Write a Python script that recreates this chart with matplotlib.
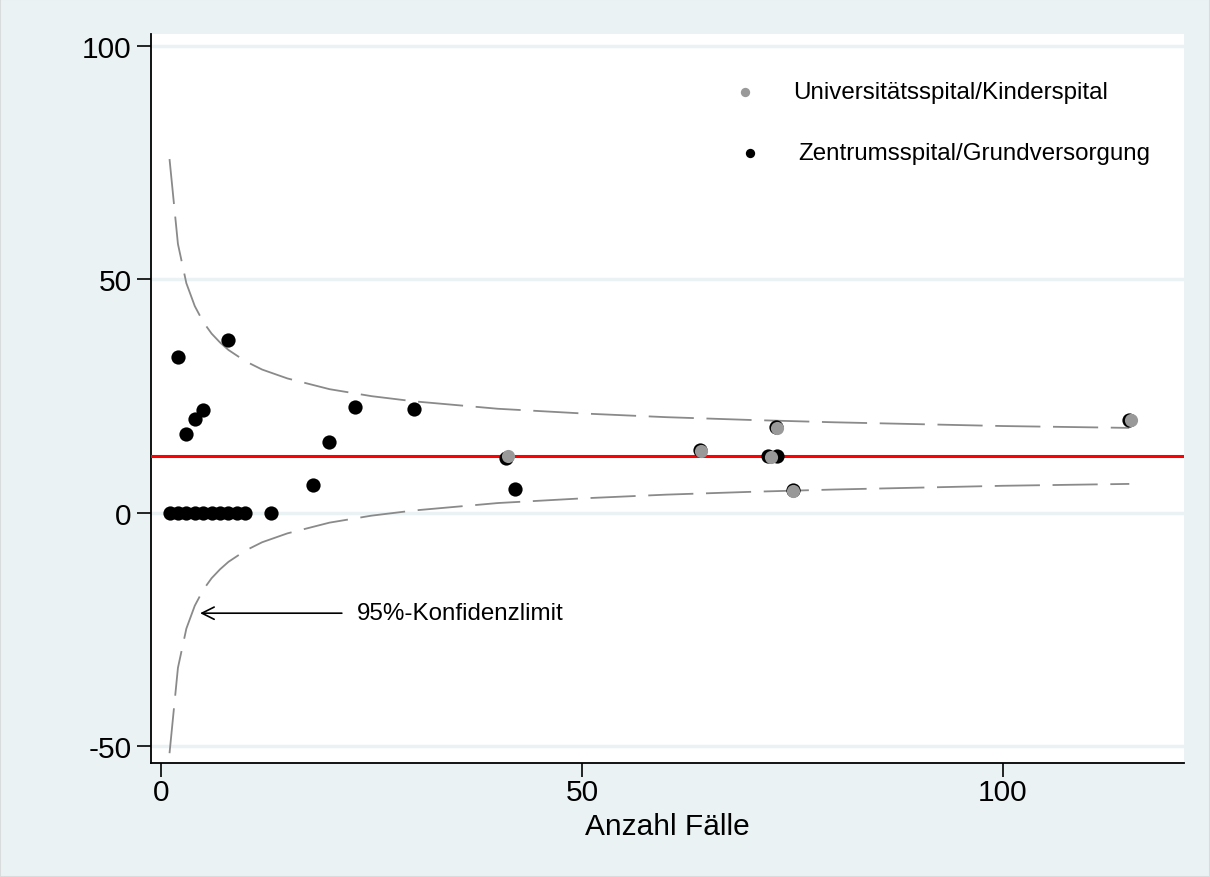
import matplotlib
matplotlib.use("Agg")
import matplotlib.pyplot as plt
from matplotlib.patches import Rectangle

plt.rcParams['font.family'] = ['Liberation Sans', 'DejaVu Sans']
plt.rcParams['axes.unicode_minus'] = False

# Zentrumsspital/Grundversorgung (black)
zentrum_n = [1, 2, 3, 4, 5, 6, 7, 8, 9, 10, 2, 3, 4, 5, 8, 13, 18, 20, 23, 30,
             41, 42, 64, 72.1, 73.2, 73, 75, 115]
zentrum_pct = [0, 0, 0, 0, 0, 0, 0, 0, 0, 0, 33.3, 16.9, 20.1, 22.1, 37.1, 0, 6.0, 15.1, 22.7, 22.2,
               11.8, 5.1, 13.5, 12.1, 12.1, 18.5, 4.9, 19.9]

# Universitätsspital/Kinderspital (grey)
uni_n = [41.2, 64.1, 73.1, 72.4, 75.0, 115.2]
uni_pct = [12.2, 13.2, 18.2, 11.9, 4.6, 19.8]

mean_pct = 12.2

# 95% confidence limits
limit_n = [1, 2, 3, 4, 5, 6, 7, 8, 10, 12, 15, 20, 25, 30, 40, 50, 60, 70, 80, 90, 100, 115]
limit_upper = [75.8, 57.6, 49.2, 44.3, 40.9, 38.4, 36.5, 34.9, 32.5, 30.7, 28.8, 26.5, 25.0,
               23.9, 22.3, 21.3, 20.5, 19.9, 19.4, 19.0, 18.6, 18.2]
limit_lower = [-51.5, -33.2, -24.8, -19.9, -16.5, -14.0, -12.1, -10.5, -8.1, -6.3, -4.4, -2.1,
               -0.6, 0.5, 2.1, 3.1, 3.9, 4.5, 5.0, 5.4, 5.8, 6.2]

bg = '#eaf2f3'
fig = plt.figure(figsize=(12.1, 8.78), dpi=100, facecolor=bg)
fig.patches.append(Rectangle((0, 0), 1, 1, transform=fig.transFigure, facecolor='none',
                             edgecolor='#d8dcdc', linewidth=1.5, zorder=-1))
ax = fig.add_axes([151 / 1210, 1 - 764 / 878, (1184 - 151) / 1210, (764 - 35) / 878])
ax.set_facecolor('white')

ax.set_xlim(-1.2, 121.5)
ax.set_ylim(-53.6, 102.6)

for y in [-50, 0, 50, 100]:
    ax.axhline(y, color=bg, linewidth=2.5, zorder=0)

ax.plot(limit_n, limit_upper, color='#8a8a8a', linewidth=1.3, dashes=(25, 7), zorder=2)
ax.plot(limit_n, limit_lower, color='#8a8a8a', linewidth=1.3, dashes=(25, 7), zorder=2)
ax.axhline(mean_pct, color='red', linewidth=2.2, zorder=3)

ax.scatter(zentrum_n, zentrum_pct, s=105, color='black', zorder=4, linewidths=0)
ax.scatter(uni_n, uni_pct, s=90, color='#999999', zorder=5, linewidths=0)

# legend drawn by hand like the original
ax.scatter([69.3], [90.1], s=45, color='#999999', linewidths=0, zorder=6)
ax.text(75.1, 90.1, 'Universitätsspital/Kinderspital', fontsize=17.4, va='center', ha='left')
ax.scatter([69.9], [77.0], s=45, color='black', linewidths=0, zorder=6)
ax.text(75.7, 77.0, 'Zentrumsspital/Grundversorgung', fontsize=17.4, va='center', ha='left')

ax.annotate('', xy=(4.3, -21.5), xytext=(21.8, -21.5),
            arrowprops=dict(arrowstyle='->', color='black', linewidth=1.2,
                            mutation_scale=22))
ax.text(23.3, -21.5, '95%-Konfidenzlimit', fontsize=17.4, va='center', ha='left')

for s in ['top', 'right']:
    ax.spines[s].set_visible(False)
ax.spines['left'].set_linewidth(1.3)
ax.spines['bottom'].set_linewidth(1.3)

ax.set_xticks([0, 50, 100])
ax.set_yticks([-50, 0, 50, 100])
ax.tick_params(axis='both', labelsize=21.5, length=10, width=1.2)
ax.tick_params(axis='x', pad=1)
ax.tick_params(axis='y', pad=4)
ax.set_xlabel('Anzahl Fälle', fontsize=21.5, labelpad=4)

fig.savefig('out.png', dpi=100, facecolor=bg)
